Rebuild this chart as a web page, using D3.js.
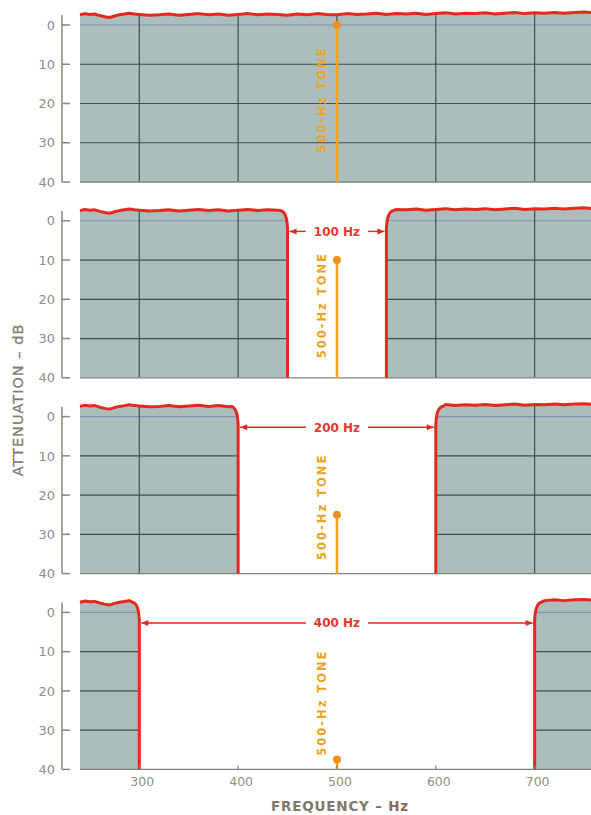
<!DOCTYPE html>
<html>
<head>
<meta charset="utf-8">
<script src="https://cdn.jsdelivr.net/npm/d3@7"></script>
<style>
  html, body { margin: 0; padding: 0; background: #fff; }
  svg { display: block; }
</style>
</head>
<body>
<script>
// Notch-filter response panels: passband trace, notch width and the 500-Hz tone level.
const notchLabels = [null, "100 Hz", "200 Hz", "400 Hz"];
const notchLow    = [null, 450, 400, 300];
const notchHigh   = [null, 550, 600, 700];
const toneFreq    = 500;
const toneLevels  = [0, 10, 25, 37.5];          // attenuation of the tone, dB

const yTicks = [0, 10, 20, 30, 40];
const xTicks = [300, 400, 500, 600, 700];

// passband ripple (dB, negative = above 0 dB)
const rippleFreqs = [240, 245, 250, 255, 260, 265, 270, 275, 280, 285, 290, 295, 300, 310, 320, 330, 340, 350, 360, 370, 380,
                     390, 400, 410, 420, 430, 440, 450, 460, 470, 480, 490, 500, 510, 520, 530,
                     540, 550, 560, 570, 580, 590, 600, 610, 620, 630, 640, 650, 660, 670, 680,
                     690, 700, 710, 720, 730, 740, 750, 760];
const rippleDb    = [-2.6, -2.9, -2.7, -2.8, -2.4, -2.1, -1.9, -2.3, -2.6, -2.8, -3.0, -2.8, -2.7, -2.5, -2.6, -2.8, -2.5, -2.7, -2.9, -2.6, -2.8,
                     -2.5, -2.7, -2.9, -2.6, -2.8, -2.7, -2.5, -2.8, -2.6, -2.9, -2.7, -2.6, -2.9, -2.7, -2.8,
                     -3.0, -2.7, -2.9, -2.8, -3.0, -2.7, -2.9, -3.1, -2.8, -3.0, -2.9, -3.1, -2.8, -3.0, -3.2,
                     -2.9, -3.1, -3.0, -3.2, -3.0, -3.2, -3.3, -3.1];

// rounded skirt of the filter just inside each notch edge: [Hz from edge, dB]
const skirtHz = [-7, -5, -3.5, -2.2, -1.2, -0.5, 0, 0];
const skirtDb = [-2.6, -2.4, -2.0, -1.4, -0.6, 0.4, 2, 40];

const W = 591, H = 815;
const svg = d3.select("body").append("svg").attr("width", W).attr("height", H);

const font = "'DejaVu Sans', sans-serif";
const axisGrey = "#858a7b";
const fillGrey = "#abbdbc";
const gridDark = "#3a5552";
const red = "#e8271d";
const orange = "#f2a31b";

const x = d3.scaleLinear().domain([240, 755]).range([80, 589]);
const ripple = rippleFreqs.map((f, i) => [f, rippleDb[i]]);

notchLabels.forEach((label, i) => {
  const top = 25 + i * 195.8;
  const y = d3.scaleLinear().domain([0, 40]).range([top, top + 157]);
  const g = svg.append("g");

  // trace segments
  let left, right;
  const lo = notchLow[i], hi = notchHigh[i];
  if (lo == null) {
    left = ripple; right = null;
  } else {
    left = ripple.filter(d => d[0] <= lo - 9)
      .concat(skirtHz.map((h, k) => [lo + h, skirtDb[k]]));
    right = skirtHz.map((h, k) => [hi - h, skirtDb[k]]).reverse()
      .concat(ripple.filter(d => d[0] >= hi + 9));
  }
  const all = right ? left.concat(right) : left;

  const area = d3.area().x(d => x(d[0])).y0(y(40)).y1(d => y(d[1]));
  const clipId = "clip" + i;
  svg.append("clipPath").attr("id", clipId).append("path").attr("d", area(all));

  g.append("path").attr("d", area(all)).attr("fill", fillGrey);

  const grid = g.append("g").attr("clip-path", `url(#${clipId})`);
  grid.selectAll("line.h").data([10, 20, 30]).join("line")
    .attr("x1", x(240)).attr("x2", x(760)).attr("y1", d => y(d)).attr("y2", d => y(d))
    .attr("stroke", gridDark).attr("stroke-width", 1.2);
  grid.append("line")
    .attr("x1", x(240)).attr("x2", x(760)).attr("y1", y(0)).attr("y2", y(0))
    .attr("stroke", "#8a8fb2").attr("stroke-width", 1.1);
  grid.selectAll("line.v").data(xTicks).join("line")
    .attr("x1", d => x(d)).attr("x2", d => x(d)).attr("y1", y(-5)).attr("y2", y(40))
    .attr("stroke", gridDark).attr("stroke-width", 1.2);

  // 40 dB baseline
  g.append("line").attr("x1", x(240)).attr("x2", 591).attr("y1", y(40)).attr("y2", y(40))
    .attr("stroke", "#7f8478").attr("stroke-width", 1.3);

  // red response trace
  const line = d3.line().x(d => x(d[0])).y(d => y(d[1]));
  [left, right].filter(Boolean).forEach(seg => {
    g.append("path").attr("d", line(seg)).attr("fill", "none")
      .attr("stroke", red).attr("stroke-width", 3).attr("stroke-linejoin", "round");
  });

  // y axis
  const ax = g.append("g").attr("stroke", axisGrey).attr("stroke-width", 1.5);
  ax.append("line").attr("x1", 62).attr("x2", 62).attr("y1", y(-2.5)).attr("y2", y(40));
  ax.selectAll("line.t").data(yTicks).join("line")
    .attr("x1", 62).attr("x2", 70).attr("y1", d => y(d)).attr("y2", d => y(d));
  g.selectAll("text.yl").data(yTicks).join("text")
    .attr("x", 55).attr("y", d => y(d)).attr("dy", "0.36em")
    .attr("text-anchor", "end").attr("font-family", font).attr("font-size", 13)
    .attr("fill", "#8e9183").text(d => d);

  // tone marker
  const tx = x(toneFreq);
  g.append("line").attr("x1", tx).attr("x2", tx).attr("y1", y(toneLevels[i])).attr("y2", y(40))
    .attr("stroke", orange).attr("stroke-width", 2.5);
  g.append("circle").attr("cx", tx).attr("cy", y(toneLevels[i])).attr("r", 4)
    .attr("fill", "#f0901c");
  const labelMid = [19, 21.5, 23, 23][i];
  g.append("text")
    .attr("transform", `translate(${tx - 11},${y(labelMid)}) rotate(-90)`)
    .attr("text-anchor", "middle").attr("font-family", font).attr("font-size", 11.5)
    .attr("font-weight", "bold").attr("letter-spacing", 2)
    .attr("fill", "#eaa622").text("500-Hz TONE");

  // notch width annotation
  if (label) {
    const ay = y(2.7);
    const xl = x(lo) + 2, xr = x(hi) - 2, mid = (x(lo) + x(hi)) / 2;
    const t = g.append("text").attr("x", mid).attr("y", ay).attr("dy", "0.36em")
      .attr("text-anchor", "middle").attr("font-family", font).attr("font-weight", "bold")
      .attr("font-size", 12).attr("fill", "#e23a2e").text(label);
    const tw = t.node().getComputedTextLength();
    const gap = 8;
    g.append("line").attr("x1", xl).attr("x2", mid - tw / 2 - gap).attr("y1", ay).attr("y2", ay)
      .attr("stroke", red).attr("stroke-width", 1.4);
    g.append("line").attr("x1", mid + tw / 2 + gap).attr("x2", xr).attr("y1", ay).attr("y2", ay)
      .attr("stroke", red).attr("stroke-width", 1.4);
    g.append("path").attr("d", `M${xl},${ay} l7,-3 l0,6 Z`).attr("fill", red);
    g.append("path").attr("d", `M${xr},${ay} l-7,-3 l0,6 Z`).attr("fill", red);
  }

  // frequency axis under the last panel
  if (i === notchLabels.length - 1) {
    g.selectAll("line.xt").data(xTicks).join("line")
      .attr("x1", d => x(d)).attr("x2", d => x(d)).attr("y1", y(40) - 4).attr("y2", y(40))
      .attr("stroke", "#7f8478").attr("stroke-width", 1.2);
    g.selectAll("text.xl").data(xTicks).join("text")
      .attr("x", d => x(d) + 3).attr("y", y(40) + 17)
      .attr("text-anchor", "middle").attr("font-family", font).attr("font-size", 12.5)
      .attr("fill", "#8e9183").text(d => d);
  }
});

// axis titles
const xt = svg.append("text").attr("x", 340).attr("y", 811).attr("text-anchor", "middle")
  .attr("font-family", font).attr("font-weight", "bold").attr("font-size", 13.5)
  .attr("letter-spacing", 0.8);
xt.append("tspan").attr("fill", "#7c7a6c").text("FREQUENCY ");
xt.append("tspan").attr("fill", "#8b6b5e").text("– Hz");

svg.append("text").attr("transform", "translate(23,400) rotate(-90)")
  .attr("text-anchor", "middle").attr("font-family", font)
  .attr("font-size", 14.5).attr("letter-spacing", 1).attr("fill", "#7f8272")
  .attr("stroke", "#7f8272").attr("stroke-width", 0.35)
  .text("ATTENUATION – dB");
</script>
</body>
</html>
